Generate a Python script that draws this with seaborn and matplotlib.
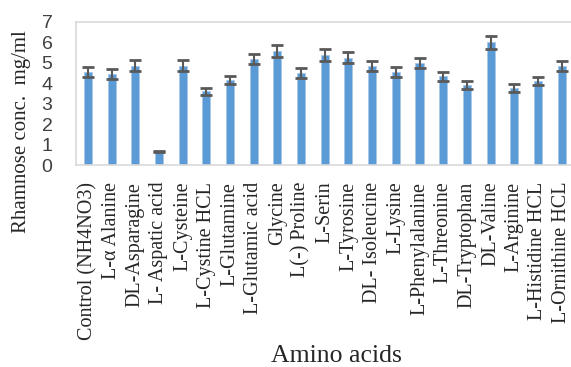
import numpy as np
import pandas as pd
import matplotlib
matplotlib.use("Agg")
import matplotlib.pyplot as plt
import seaborn as sns

categories = ["Control (NH4NO3)", "L-α Alanine", "DL-Asparagine", "L- Aspatic acid",
              "L-Cysteine", "L-Cystine HCL", "L-Glutamine", "L-Glutamic acid",
              "Glycine", "L(-) Proline", "L-Serin", "L-Tyrosine", "DL- Isoleucine",
              "L-Lysine", "L-Phenylalanine", "L-Threonine", "DL-Tryptophan",
              "DL-Valine", "L-Arginine", "L-Histidine HCL", "L-Ornithine HCL"]
values = [4.55, 4.46, 4.87, 0.65, 4.87, 3.61, 4.17, 5.18, 5.60, 4.52, 5.39,
          5.25, 4.85, 4.56, 5.00, 4.35, 3.90, 6.01, 3.77, 4.12, 4.85]
errors = [0.25, 0.23, 0.25, 0.03, 0.25, 0.18, 0.21, 0.26, 0.29, 0.24, 0.28,
          0.28, 0.25, 0.24, 0.26, 0.22, 0.20, 0.31, 0.19, 0.20, 0.25]
yticks = [0, 1, 2, 3, 4, 5, 6, 7]

df = pd.DataFrame({"acid": categories, "conc": values})

sns.set_theme(style="white")
plt.rcParams["font.family"] = ["Liberation Serif", "DejaVu Serif"]

fig = plt.figure(figsize=(5.71, 3.67), dpi=100)
ax = fig.add_axes([76/571, 1 - 165/367, (573.5 - 76)/571, (165 - 22)/367])

sns.barplot(data=df, x="acid", y="conc", color="#5B9BD5", width=0.34,
            edgecolor="#A9C8EA", linewidth=0.6, saturation=1, ax=ax, errorbar=None)
ax.errorbar(np.arange(len(categories)), values, yerr=errors, fmt="none",
            ecolor="#595959", elinewidth=1.5, capsize=4.2, capthick=2)

ax.set_ylim(0, 7)
ax.set_xlim(-0.5, len(categories) - 0.5)
ax.set_yticks(yticks)
ax.set_yticklabels([str(t) for t in yticks], family=["Liberation Sans", "DejaVu Sans"],
                   fontsize=14, color="#404040")
ax.tick_params(axis="y", length=0, pad=17)
ax.tick_params(axis="x", length=0, pad=12)
ax.set_xticks(range(len(categories)))
ax.set_xticklabels(categories, rotation=90, fontsize=14.5, va="top", ha="center")

for s in ["left", "top", "bottom", "right"]:
    ax.spines[s].set_color("#D9D9D9")
    ax.spines[s].set_linewidth(1.2)
ax.grid(False)

ax.set_xlabel("")
ax.set_ylabel("")
fig.text(336/571, 1 - 356/367, "Amino acids", ha="center", va="center", fontsize=18.5)
fig.text(22/571, 1 - 132/367, "Rhamnose conc.  mg/ml", ha="center", va="center",
         rotation=90, fontsize=15)

fig.savefig("out.png", dpi=100)
